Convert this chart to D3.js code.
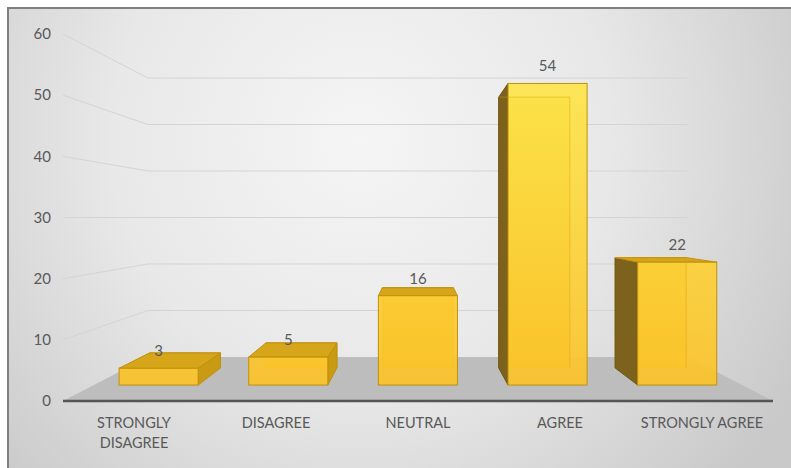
<!DOCTYPE html>
<html>
<head>
<meta charset="utf-8">
<script src="https://cdnjs.cloudflare.com/ajax/libs/d3/7.8.5/d3.min.js"></script>
<style>
  body { margin: 0; background: #fff; }
  text { font-family: Lato, "Open Sans", sans-serif; fill: #595959; }
</style>
</head>
<body>
<div id="chart"></div>
<script>
// data
var categories = ["STRONGLY DISAGREE", "DISAGREE", "NEUTRAL", "AGREE", "STRONGLY AGREE"];
var counts = [3, 5, 16, 54, 22];
var yTicks = [0, 10, 20, 30, 40, 50, 60];

var width = 791, height = 468;

var svg = d3.select("#chart")
    .append("svg")
    .attr("width", width)
    .attr("height", height);

var defs = svg.append("defs");

// radial background like the excel chart area
var bg = defs.append("radialGradient")
    .attr("id", "bg")
    .attr("gradientUnits", "userSpaceOnUse")
    .attr("cx", 360).attr("cy", 140).attr("r", 500);
bg.append("stop").attr("offset", 0).attr("stop-color", "#f5f5f5");
bg.append("stop").attr("offset", 0.5).attr("stop-color", "#e8e8e8");
bg.append("stop").attr("offset", 1).attr("stop-color", "#c9c9c9");

// front faces get brighter the higher they go
var barGrad = defs.append("linearGradient")
    .attr("id", "barGrad")
    .attr("gradientUnits", "userSpaceOnUse")
    .attr("x1", 0).attr("y1", 80).attr("x2", 0).attr("y2", 390);
barGrad.append("stop").attr("offset", 0).attr("stop-color", "#fde64c");
barGrad.append("stop").attr("offset", 1).attr("stop-color", "#fbc22a");

svg.append("rect")
    .attr("x", 8).attr("y", 8)
    .attr("width", 800).attr("height", 480)
    .attr("fill", "url(#bg)")
    .attr("stroke", "#7f7f7f")
    .attr("stroke-width", 2);

// scales on the front plane
var x = d3.scaleBand()
    .domain(categories)
    .range([63, 773])
    .paddingInner(0.39)
    .paddingOuter(0.195);

var y = d3.scaleLinear()
    .domain([0, 60])
    .range([401, 34]);

// simple perspective: shrink towards a vanishing point with depth
var vpX = 417, vpY = 217.5;
var sFloorFront = 1, sWall = 0.76;
var sFront = 0.913, sBack = 0.82;

function proj(X, Y, s) {
    return [vpX + s * (X - vpX), vpY + s * (Y - vpY)];
}
function poly(pts) {
    return "M" + pts.map(function (p) { return p[0] + "," + p[1]; }).join("L") + "Z";
}

var x0 = x.range()[0], x1 = x.range()[1];

// walls gridlines (left side wall + back wall)
svg.append("g").selectAll("path")
    .data(yTicks.filter(function (t) { return t > 0; }))
    .enter().append("path")
    .attr("d", function (t) {
        var a = proj(x0, y(t), sFloorFront),
            b = proj(x0, y(t), sWall),
            c = proj(x1, y(t), sWall);
        return "M" + a + "L" + b + "L" + c;
    })
    .attr("fill", "none")
    .attr("stroke", "#d4d4d4")
    .attr("stroke-width", 1);

// floor
svg.append("path")
    .attr("d", poly([
        proj(x0, y(0), sFloorFront), proj(x1, y(0), sFloorFront),
        proj(x1, y(0), sWall), proj(x0, y(0), sWall)
    ]))
    .attr("fill", "#bdbdbd");

// bars
var bw = x.bandwidth();
var bars = svg.append("g").selectAll("g")
    .data(counts)
    .enter().append("g");

bars.each(function (v, i) {
    var g = d3.select(this);
    var X0 = x(categories[i]), X1 = X0 + bw;
    var Yt = y(v), Yb = y(0);
    var stroke = "#bf910c";

    // back face
    g.append("path")
        .attr("d", poly([proj(X0, Yt, sBack), proj(X1, Yt, sBack), proj(X1, Yb, sBack), proj(X0, Yb, sBack)]))
        .attr("fill", "#e8b420")
        .attr("stroke", stroke);

    // side faces
    if (X1 < vpX) {
        g.append("path")
            .attr("d", poly([proj(X1, Yt, sFront), proj(X1, Yt, sBack), proj(X1, Yb, sBack), proj(X1, Yb, sFront)]))
            .attr("fill", "#c99b14")
            .attr("stroke", stroke);
    }
    if (X0 > vpX) {
        g.append("path")
            .attr("d", poly([proj(X0, Yt, sFront), proj(X0, Yt, sBack), proj(X0, Yb, sBack), proj(X0, Yb, sFront)]))
            .attr("fill", "#7d621e")
            .attr("stroke", "#6e5518");
    }

    // top face, only when seen from above
    if (Yt > vpY) {
        g.append("path")
            .attr("d", poly([proj(X0, Yt, sFront), proj(X1, Yt, sFront), proj(X1, Yt, sBack), proj(X0, Yt, sBack)]))
            .attr("fill", "#d7a519")
            .attr("stroke", stroke);
    }

    // front face, slightly see-through
    var ft = proj(X0, Yt, sFront), fb = proj(X1, Yb, sFront);
    g.append("rect")
        .attr("x", ft[0]).attr("y", ft[1])
        .attr("width", fb[0] - ft[0]).attr("height", fb[1] - ft[1])
        .attr("fill", "url(#barGrad)")
        .attr("fill-opacity", 0.93)
        .attr("stroke", stroke);

    // back top/side edges showing through the front face
    var bl = proj(X0, Yt, sBack), br = proj(X1, Yt, sBack), brb = proj(X1, Yb, sBack), blb = proj(X0, Yb, sBack);
    var inner = Yt > vpY ? "" : "M" + blb + "L" + bl + "L" + br + "L" + brb;
    if (X0 > vpX) inner = "M" + bl + "L" + br + "L" + brb;
    g.append("path")
        .attr("d", inner)
        .attr("fill", "none")
        .attr("stroke", "#d9a514")
        .attr("stroke-opacity", 0.4);

    // value label
    var c = proj(X0 + bw / 2, Yt, sFront);
    g.append("text")
        .attr("x", c[0])
        .attr("y", c[1] - 12)
        .attr("text-anchor", "middle")
        .style("font-size", "15px")
        .text(v);
});

// category axis line
svg.append("line")
    .attr("x1", x0).attr("x2", x1)
    .attr("y1", y(0)).attr("y2", y(0))
    .attr("stroke", "#555")
    .attr("stroke-width", 2.5);

// y axis labels
var yAxis = svg.append("g")
    .attr("transform", "translate(51,0)")
    .call(d3.axisLeft(y).tickValues(yTicks).tickSize(0).tickPadding(0));
yAxis.select(".domain").remove();
yAxis.selectAll("text")
    .style("font-family", "Lato, 'Open Sans', sans-serif")
    .style("font-size", "15px")
    .attr("fill", "#595959");

// x axis labels
var xAxis = svg.append("g")
    .attr("transform", "translate(0," + y(0) + ")")
    .call(d3.axisBottom(x).tickSize(0).tickPadding(17));
xAxis.select(".domain").remove();
xAxis.selectAll("text")
    .style("font-family", "Lato, 'Open Sans', sans-serif")
    .style("font-size", "14.5px")
    .attr("fill", "#595959")
    .call(wrap, 132);

function wrap(texts, maxW) {
    texts.each(function () {
        var text = d3.select(this),
            words = text.text().split(/\s+/),
            yy = text.attr("y"),
            line = [],
            lineNo = 0,
            tspan = text.text(null).append("tspan").attr("x", 0).attr("y", yy).attr("dy", "0.71em");
        words.forEach(function (w) {
            line.push(w);
            tspan.text(line.join(" "));
            if (tspan.node().getComputedTextLength() > maxW && line.length > 1) {
                line.pop();
                tspan.text(line.join(" "));
                line = [w];
                lineNo++;
                tspan = text.append("tspan").attr("x", 0).attr("y", yy)
                    .attr("dy", (0.71 + lineNo * 1.38) + "em").text(w);
            }
        });
    });
}
</script>
</body>
</html>
